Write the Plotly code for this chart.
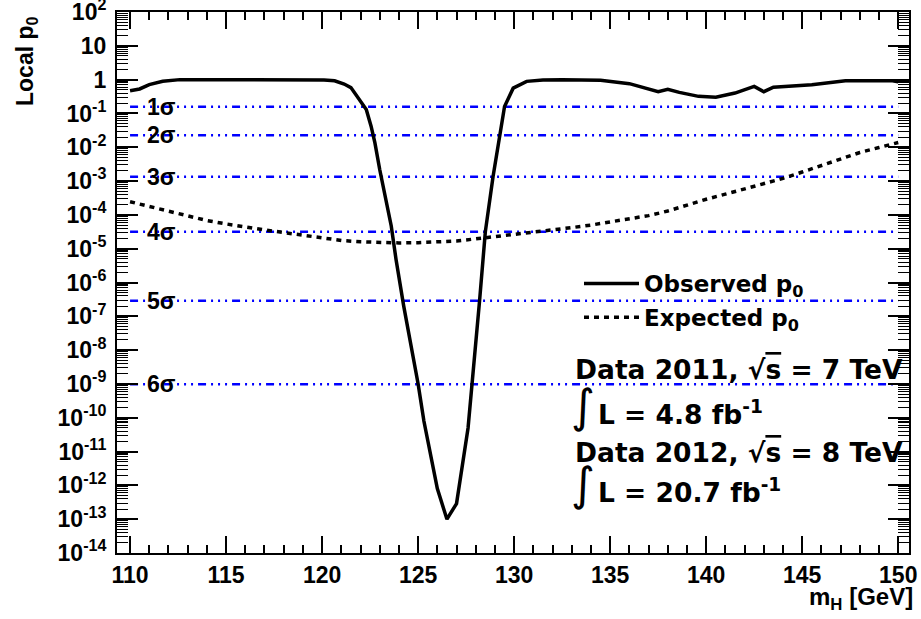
import math
import plotly.graph_objects as go

# ---------------- data ----------------
obs_mass = [110, 110.5, 111.0, 111.7, 112.6, 113.6, 115, 116, 117, 118, 119, 120.1,
            120.65, 121.15, 121.5, 121.7, 122.0, 122.3, 122.55, 122.75, 123.0, 123.25,
            123.6, 123.85, 124.25, 125.0, 125.3, 126.0, 126.5, 127.0, 127.6, 128.2,
            128.5, 128.9, 129.25, 129.5, 129.95, 130.65, 131.5, 132.5, 134.5, 136.0,
            137.5, 138.0, 138.6, 139.6, 140.5, 141.5, 142.5, 143.0, 143.5, 145.5, 147.25,
            149.7, 150]
obs_p0 = [0.47, 0.53, 0.71, 0.89, 1.0, 1.0, 1.0, 1.0, 0.98, 1.0, 1.0, 0.98,
          0.92, 0.74, 0.58, 0.40, 0.24, 0.13, 0.042, 0.0135, 2.2e-3, 4.5e-4,
          4.7e-5, 4.8e-6, 2.0e-7, 1.0e-9, 8e-11, 8e-13, 1.0e-13, 2.9e-13, 5e-11, 2.9e-7,
          3.2e-5, 1.35e-3, 0.023, 0.16, 0.56, 0.89, 0.98, 1.0, 0.96, 0.76,
          0.44, 0.52, 0.42, 0.32, 0.30, 0.40, 0.63, 0.44, 0.60, 0.71, 0.93,
          0.93, 0.86]

exp_mass = [110, 111, 112, 113, 114, 115, 116, 117, 118, 119, 120, 121, 122, 123, 124, 125,
            126, 127, 128, 129, 130, 131, 132, 133, 134, 135, 136, 137, 138, 139, 140, 141,
            142, 143, 144, 145, 146, 147, 148, 149, 150]
exp_p0 = [2.45e-4, 1.78e-4, 1.26e-4, 9.1e-5, 6.8e-5, 5.4e-5, 4.3e-5, 3.6e-5, 3.0e-5, 2.5e-5,
          2.0e-5, 1.75e-5, 1.6e-5, 1.52e-5, 1.48e-5, 1.5e-5, 1.56e-5, 1.7e-5, 1.95e-5, 2.25e-5,
          2.6e-5, 3.0e-5, 3.55e-5, 4.2e-5, 5.0e-5, 6.1e-5, 7.4e-5, 9.5e-5, 1.3e-4, 2.0e-4,
          2.9e-4, 4.1e-4, 5.8e-4, 8.3e-4, 1.2e-3, 1.85e-3, 2.9e-3, 4.6e-3, 7.0e-3, 9.8e-3, 0.0138]

sigma_labels = ["1σ", "2σ", "3σ", "4σ", "5σ", "6σ"]
sigma_p0 = [0.1587, 0.02275, 1.35e-3, 3.167e-5, 2.867e-7, 9.866e-10]
sigma_line_mass = [110, 150]
sigma_label_mass = 110.8

x_axis_range = [109.32, 150.56]
y_axis_decades = [-14, 2]
y_tick_vals = [1e-14, 1e-13, 1e-12, 1e-11, 1e-10, 1e-9, 1e-8, 1e-7, 1e-6, 1e-5, 1e-4,
               1e-3, 1e-2, 1e-1, 1, 10, 100]
y_tick_text = ["10<sup>-14</sup>", "10<sup>-13</sup>", "10<sup>-12</sup>", "10<sup>-11</sup>",
               "10<sup>-10</sup>", "10<sup>-9</sup>", "10<sup>-8</sup>", "10<sup>-7</sup>",
               "10<sup>-6</sup>", "10<sup>-5</sup>", "10<sup>-4</sup>", "10<sup>-3</sup>",
               "10<sup>-2</sup>", "10<sup>-1</sup>", "1", "10", "10<sup>2</sup>"]
x_tick_vals = [110, 115, 120, 125, 130, 135, 140, 145, 150]

# ---------------- figure ----------------
AX_FONT = dict(family="Liberation Sans, Arial, Helvetica", size=23, color="black", weight="bold")
TXT_FONT = dict(family="DejaVu Sans", size=26.5, color="black", weight="bold")

L, T, W, H = 117, 12, 792, 541  # plot frame in pixels


def px(xp):
    return (xp - L) / W


def py(yp):
    return (T + H - yp) / H


fig = go.Figure()

for lab, p in zip(sigma_labels, sigma_p0):
    fig.add_trace(go.Scatter(
        x=sigma_line_mass, y=[p, p], mode="lines", showlegend=False, hoverinfo="skip",
        line=dict(color="#0000ff", width=2.5,
                  dash="8px,5px,2px,5px,2px,5px,2px,5px")))
    fig.add_annotation(x=sigma_label_mass, y=math.log10(p), yref="y", xref="x", text=lab,
                       showarrow=False, xanchor="left", yanchor="middle",
                       font=dict(family="Liberation Sans, Arial", size=23, color="black",
                                 weight="bold"))

fig.add_trace(go.Scatter(x=obs_mass, y=obs_p0, mode="lines", name="Observed p<sub>0</sub>",
                         legendgroup="obs", line=dict(color="black", width=3.5)))
fig.add_trace(go.Scatter(x=exp_mass, y=exp_p0, mode="lines", name="Expected p<sub>0</sub>",
                         legendgroup="exp",
                         line=dict(color="black", width=3.5, dash="5px,5px")))

# text block
fig.add_annotation(xref="paper", yref="paper", x=px(573), y=py(370),
                   text="Data 2011, √<span style='text-decoration:overline'>s</span> = 7 TeV",
                   showarrow=False, xanchor="left", yanchor="middle", font=TXT_FONT)
fig.add_annotation(xref="paper", yref="paper", x=px(596), y=py(413),
                   text="L = 4.8 fb<sup>-1</sup>",
                   showarrow=False, xanchor="left", yanchor="middle", font=TXT_FONT)
fig.add_annotation(xref="paper", yref="paper", x=px(573), y=py(452),
                   text="Data 2012, √<span style='text-decoration:overline'>s</span> = 8 TeV",
                   showarrow=False, xanchor="left", yanchor="middle", font=TXT_FONT)
fig.add_annotation(xref="paper", yref="paper", x=px(596), y=py(491),
                   text="L = 20.7 fb<sup>-1</sup>",
                   showarrow=False, xanchor="left", yanchor="middle", font=TXT_FONT)
for yc in (406, 484):
    fig.add_annotation(xref="paper", yref="paper", x=px(569), y=py(yc),
                       text="∫", showarrow=False, xanchor="left", yanchor="middle",
                       font=dict(family="DejaVu Sans", size=46, color="black"))

# axis titles
fig.add_annotation(xref="paper", yref="paper", x=px(26), y=py(61),
                   text="Local p<sub>0</sub>", textangle=-90, showarrow=False,
                   xanchor="center", yanchor="middle",
                   font=dict(family="Liberation Sans, Arial", size=23, color="black",
                             weight="bold"))
fig.add_annotation(xref="paper", yref="paper", x=px(915), y=py(598),
                   text="m<sub>H</sub> [GeV]", showarrow=False,
                   xanchor="right", yanchor="middle",
                   font=dict(family="Liberation Sans, Arial", size=24, color="black",
                             weight="bold"))

fig.update_layout(
    width=921, height=619,
    margin=dict(l=L, r=921 - L - W, t=T, b=619 - T - H),
    paper_bgcolor="white", plot_bgcolor="white",
    showlegend=True,
    legend=dict(x=px(579), y=py(262), xanchor="left", yanchor="top",
                bgcolor="rgba(0,0,0,0)", font=dict(TXT_FONT, size=23), itemwidth=55,
                tracegroupgap=1),
)
fig.update_xaxes(
    range=x_axis_range, tickvals=x_tick_vals, ticks="inside", ticklen=17, tickwidth=1.5,
    tickcolor="black", showline=True, linecolor="black", linewidth=2, mirror="allticks",
    showgrid=False, zeroline=False, tickfont=AX_FONT, automargin=False,
    ticklabeloverflow="allow",
    minor=dict(ticks="inside", ticklen=8, tickwidth=1.5, tickcolor="black", dtick=1,
               tick0=110, showgrid=False),
)
fig.update_yaxes(
    type="log", range=y_axis_decades, tickvals=y_tick_vals, ticktext=y_tick_text,
    ticks="inside", ticklen=21, tickwidth=1.5, tickcolor="black",
    showline=True, linecolor="black", linewidth=2, mirror="allticks",
    showgrid=False, zeroline=False, tickfont=AX_FONT, ticklabelstandoff=4,
    automargin=False, ticklabeloverflow="allow",
    minor=dict(ticks="inside", ticklen=11, tickwidth=1, tickcolor="black", dtick="D1",
               showgrid=False),
)

fig.write_html("out.html", config={"displayModeBar": False},
               post_script="document.body.style.margin='0px';")
